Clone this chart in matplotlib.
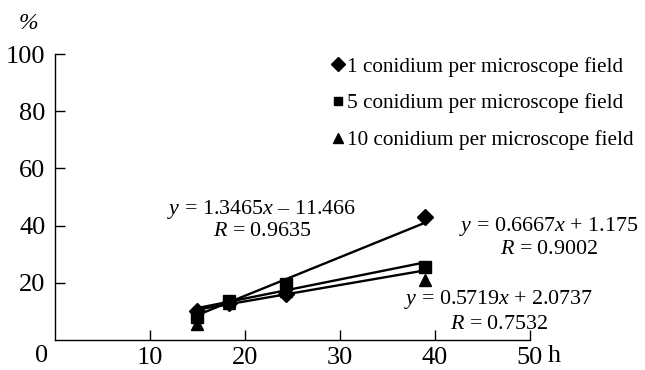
import numpy as np
import matplotlib.pyplot as plt
from matplotlib.ticker import FixedLocator

plt.rcParams['font.family'] = 'Liberation Serif'
plt.rcParams['mathtext.fontset'] = 'custom'
plt.rcParams['mathtext.rm'] = 'Liberation Serif'
plt.rcParams['mathtext.it'] = 'Liberation Serif:italic'

# hours after inoculation
hours = [15, 18.3, 24.3, 39]

# percent values per conidium density
one_con = [10, 13, 16, 43]
five_con = [8, 13.5, 19.5, 25.5]
ten_con = [5.5, 13, 17, 21]

# linear trend coefficients (slope, intercept) and R
fits = [(1.3465, -11.466, 0.9635), (0.6667, 1.175, 0.9002), (0.5719, 2.0737, 0.7532)]
labels = ['1 conidium per microscope field',
          '5 conidium per microscope field',
          '10 conidium per microscope field']

fig = plt.figure(figsize=(6.45, 3.7), dpi=100)
ax = fig.add_axes([0.0853, 0.081, 0.736, 0.773])

xs = np.array([hours[0], hours[-1]])
for slope, icpt, r in fits:
    ax.plot(xs, slope * xs + icpt, color='black', lw=1.7, zorder=2)

mk = ['D', 's', '^']
sz = [8.5, 8, 9]
for vals, m, s, lab in zip([one_con, five_con, ten_con], mk, sz, labels):
    ax.plot(hours, vals, linestyle='none', marker=m, ms=s, color='black', label=lab, zorder=3)

ax.set_xlim(0, 50)
ax.set_ylim(0, 100)
ax.xaxis.set_major_locator(FixedLocator([10, 20, 30, 40, 50]))
ax.yaxis.set_major_locator(FixedLocator([20, 40, 60, 80, 100]))
for s in ['top', 'right']:
    ax.spines[s].set_visible(False)
for s in ['left', 'bottom']:
    ax.spines[s].set_linewidth(1.0)
ax.tick_params(direction='in', length=7, width=1.0, labelsize=19)
ax.tick_params(axis='x', pad=5)
ax.tick_params(axis='y', pad=7)

ax.text(-1.4, -5.6, '0', ha='center', va='center', fontsize=19, clip_on=False)
ax.text(51.9, -5.6, 'h', ha='left', va='center', fontsize=19, clip_on=False)
ax.text(-2.8, 110.5, '%', ha='center', va='center', fontsize=17, style='italic', clip_on=False)

# equation labels
eq = dict(ha='center', va='center', fontsize=15.8, clip_on=False)
ax.text(21.8, 45.6, '$y$ = 1.3465$x$ – 11.466', **eq)
ax.text(21.8, 37.9, '$R$ = 0.9635', **eq)
ax.text(52.0, 39.6, '$y$ = 0.6667$x$ + 1.175', **eq)
ax.text(52.0, 31.8, '$R$ = 0.9002', **eq)
ax.text(46.7, 14.0, '$y$ = 0.5719$x$ + 2.0737', **eq)
ax.text(46.8, 5.5, '$R$ = 0.7532', **eq)

ax.legend(loc='upper left', bbox_to_anchor=(0.503, 0.870), bbox_transform=fig.transFigure,
          frameon=False, fontsize=15.3, handlelength=0.5, handletextpad=0.15,
          labelspacing=0.8, markerscale=0.8, borderaxespad=0)

fig.savefig('out.png', dpi=100)
